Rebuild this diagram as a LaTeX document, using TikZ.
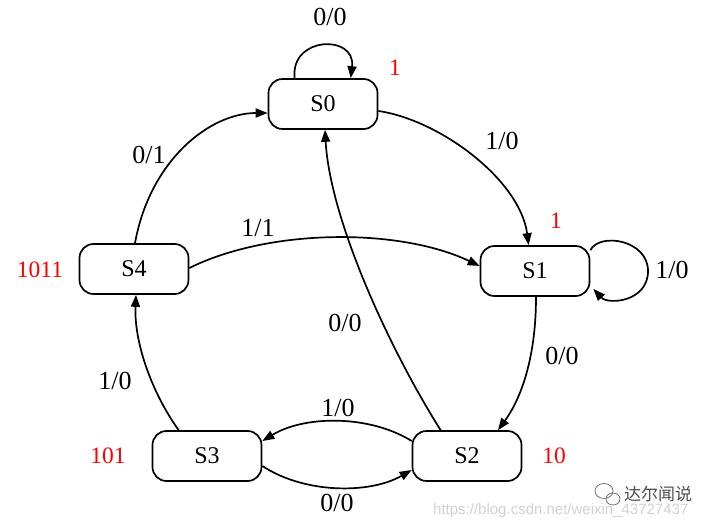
\documentclass[tikz,border=0pt]{standalone}
\usepackage{fontspec}
\setmainfont{Liberation Serif}
\newfontfamily\wmfont{Liberation Sans}
\newfontfamily\cjk{Noto Sans CJK SC}
\usetikzlibrary{arrows.meta}
\begin{document}
\begin{tikzpicture}[x=1pt,y=-1pt,
  state/.style={draw,line width=1.7pt,rounded corners=14pt,minimum width=109pt,minimum height=50pt,inner sep=0pt,font=\fontsize{24}{27}\selectfont},
  lbl/.style={font=\fontsize{26}{29}\selectfont,inner sep=0pt},
  outl/.style={font=\fontsize{23.5}{26}\selectfont,inner sep=0pt,text=red},
  edge/.style={line width=1.7pt,-{Triangle[length=12pt,width=9pt]}}]
\useasboundingbox (0,0) rectangle (714,526);
\node[state] (S0) at (323,104) {S0};
\node[state] (S1) at (535,271) {S1};
\node[state] (S2) at (467,456) {S2};
\node[state] (S3) at (207,456) {S3};
\node[state] (S4) at (134,269) {S4};
% self loops
\draw[edge] ([xshift=27pt]S0.north west) .. controls (290,36) and (356,34) .. ([xshift=83pt]S0.north west);
\coordinate (c1) at (648,271);
\draw[edge] ([yshift=-5pt]S1.north east) .. controls (600,232) and (648,240) .. (c1) .. controls (648,302) and (608,305) .. ([xshift=3pt,yshift=8pt]S1.south east);
% edges
\draw[edge] ([yshift=-7pt]S0.east) .. controls (440,120) and (520,180) .. ([xshift=49pt]S1.north west);
\draw[edge] ([xshift=1pt]S1.south) .. controls (536,360) and (520,400) .. ([xshift=31pt]S2.north);
\draw[edge] ([yshift=15pt]S2.west) .. controls (370,415) and (305,415) .. ([yshift=15pt]S3.east);
\draw[edge] ([yshift=-10pt]S3.east) .. controls (305,494) and (370,494) .. ([yshift=-14pt]S2.west);
\draw[edge] ([xshift=27pt]S3.north west) .. controls (150,390) and (134,340) .. ([xshift=2pt]S4.south);
\draw[edge] ([xshift=1pt]S4.north) .. controls (150,160) and (210,113) .. ([yshift=-9pt]S0.west);
\draw[edge] ([yshift=1pt]S4.east) .. controls (270,228) and (400,228) .. ([yshift=5pt]S1.west);
\draw[edge] ([xshift=29pt]S2.north west) .. controls (390,350) and (330,220) .. ([xshift=2pt]S0.south);
% edge labels
\node[lbl] (l00a) at (330,17) {0/0};
\node[lbl] (l10a) at (502,141) {1/0};
\node[lbl] (l10b) at (672,270) {1/0};
\node[lbl] (l00b) at (562,356) {0/0};
\node[lbl] (l10c) at (338,408) {1/0};
\node[lbl] (l00c) at (337,503) {0/0};
\node[lbl] (l10d) at (115,381) {1/0};
\node[lbl] (l11) at (258,228) {1/1};
\node[lbl] (l01) at (149,155) {0/1};
\node[lbl] (l00d) at (345,323) {0/0};
% outputs
\node[outl] (o0) at (395,68) {1};
\node[outl] (o1) at (556,221) {1};
\node[outl] (o2) at (554,456) {10};
\node[outl] (o3) at (108,456) {101};
\node[outl] (o4) at (40,270) {1011};
% watermark
\node[font=\wmfont\fontsize{15}{18}\selectfont,text=black!18,inner sep=0pt,anchor=base west] (wm) at (433,514) {https://blog.csdn.net/weixin\_43727437};
\node[font=\cjk\fontsize{17}{20}\selectfont,text=black!70,inner sep=0pt,anchor=west] (wc) at (624,494) {达尔闻说};
\draw[black!55,line width=0.8pt] (604,491) ellipse (9pt and 7.5pt);
\draw[black!55,line width=0.8pt] (613,499) ellipse (7pt and 6pt);
\end{tikzpicture}
\end{document}
